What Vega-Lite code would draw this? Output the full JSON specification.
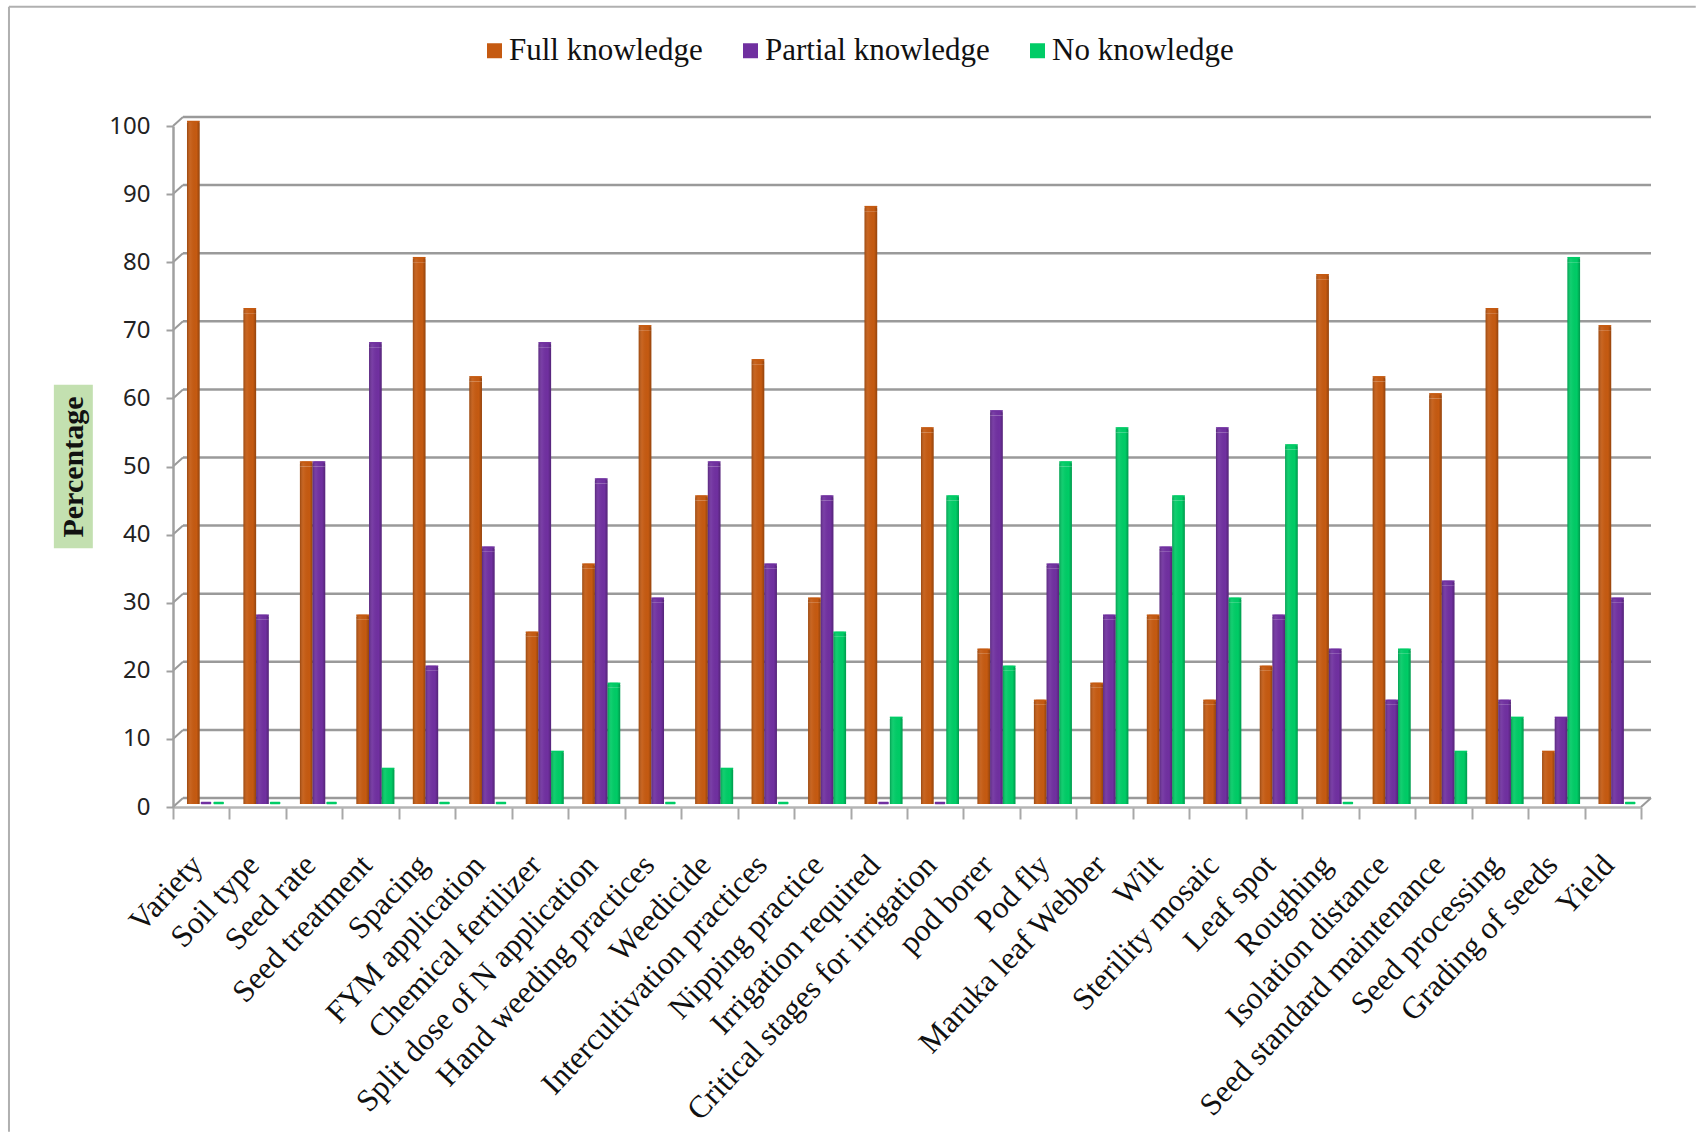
{"$schema":"https://vega.github.io/schema/vega-lite/v6.json","width":1468,"height":681,"padding":{"left":173,"top":126,"right":55,"bottom":325},"autosize":{"type":"none"},"background":"white","config":{"view":{"stroke":null}},
"datasets":{"ticks":[{"t":0},{"t":10},{"t":20},{"t":30},{"t":40},{"t":50},{"t":60},{"t":70},{"t":80},{"t":90},{"t":100}],
"rows":[
{"topic":"Variety","series":"Full knowledge","value":100},{"topic":"Variety","series":"Partial knowledge","value":0},{"topic":"Variety","series":"No knowledge","value":0},
{"topic":"Soil type","series":"Full knowledge","value":72.5},{"topic":"Soil type","series":"Partial knowledge","value":27.5},{"topic":"Soil type","series":"No knowledge","value":0},
{"topic":"Seed rate","series":"Full knowledge","value":50},{"topic":"Seed rate","series":"Partial knowledge","value":50},{"topic":"Seed rate","series":"No knowledge","value":0},
{"topic":"Seed treatment","series":"Full knowledge","value":27.5},{"topic":"Seed treatment","series":"Partial knowledge","value":67.5},{"topic":"Seed treatment","series":"No knowledge","value":5},
{"topic":"Spacing","series":"Full knowledge","value":80},{"topic":"Spacing","series":"Partial knowledge","value":20},{"topic":"Spacing","series":"No knowledge","value":0},
{"topic":"FYM application","series":"Full knowledge","value":62.5},{"topic":"FYM application","series":"Partial knowledge","value":37.5},{"topic":"FYM application","series":"No knowledge","value":0},
{"topic":"Chemical fertilizer","series":"Full knowledge","value":25},{"topic":"Chemical fertilizer","series":"Partial knowledge","value":67.5},{"topic":"Chemical fertilizer","series":"No knowledge","value":7.5},
{"topic":"Split dose of N application","series":"Full knowledge","value":35},{"topic":"Split dose of N application","series":"Partial knowledge","value":47.5},{"topic":"Split dose of N application","series":"No knowledge","value":17.5},
{"topic":"Hand weeding practices","series":"Full knowledge","value":70},{"topic":"Hand weeding practices","series":"Partial knowledge","value":30},{"topic":"Hand weeding practices","series":"No knowledge","value":0},
{"topic":"Weedicide","series":"Full knowledge","value":45},{"topic":"Weedicide","series":"Partial knowledge","value":50},{"topic":"Weedicide","series":"No knowledge","value":5},
{"topic":"Intercultivation practices","series":"Full knowledge","value":65},{"topic":"Intercultivation practices","series":"Partial knowledge","value":35},{"topic":"Intercultivation practices","series":"No knowledge","value":0},
{"topic":"Nipping practice","series":"Full knowledge","value":30},{"topic":"Nipping practice","series":"Partial knowledge","value":45},{"topic":"Nipping practice","series":"No knowledge","value":25},
{"topic":"Irrigation required","series":"Full knowledge","value":87.5},{"topic":"Irrigation required","series":"Partial knowledge","value":0},{"topic":"Irrigation required","series":"No knowledge","value":12.5},
{"topic":"Critical stages for irrigation","series":"Full knowledge","value":55},{"topic":"Critical stages for irrigation","series":"Partial knowledge","value":0},{"topic":"Critical stages for irrigation","series":"No knowledge","value":45},
{"topic":"pod borer","series":"Full knowledge","value":22.5},{"topic":"pod borer","series":"Partial knowledge","value":57.5},{"topic":"pod borer","series":"No knowledge","value":20},
{"topic":"Pod fly","series":"Full knowledge","value":15},{"topic":"Pod fly","series":"Partial knowledge","value":35},{"topic":"Pod fly","series":"No knowledge","value":50},
{"topic":"Maruka leaf Webber","series":"Full knowledge","value":17.5},{"topic":"Maruka leaf Webber","series":"Partial knowledge","value":27.5},{"topic":"Maruka leaf Webber","series":"No knowledge","value":55},
{"topic":"Wilt","series":"Full knowledge","value":27.5},{"topic":"Wilt","series":"Partial knowledge","value":37.5},{"topic":"Wilt","series":"No knowledge","value":45},
{"topic":"Sterility mosaic","series":"Full knowledge","value":15},{"topic":"Sterility mosaic","series":"Partial knowledge","value":55},{"topic":"Sterility mosaic","series":"No knowledge","value":30},
{"topic":"Leaf spot","series":"Full knowledge","value":20},{"topic":"Leaf spot","series":"Partial knowledge","value":27.5},{"topic":"Leaf spot","series":"No knowledge","value":52.5},
{"topic":"Roughing","series":"Full knowledge","value":77.5},{"topic":"Roughing","series":"Partial knowledge","value":22.5},{"topic":"Roughing","series":"No knowledge","value":0},
{"topic":"Isolation distance","series":"Full knowledge","value":62.5},{"topic":"Isolation distance","series":"Partial knowledge","value":15},{"topic":"Isolation distance","series":"No knowledge","value":22.5},
{"topic":"Seed standard maintenance","series":"Full knowledge","value":60},{"topic":"Seed standard maintenance","series":"Partial knowledge","value":32.5},{"topic":"Seed standard maintenance","series":"No knowledge","value":7.5},
{"topic":"Seed processing","series":"Full knowledge","value":72.5},{"topic":"Seed processing","series":"Partial knowledge","value":15},{"topic":"Seed processing","series":"No knowledge","value":12.5},
{"topic":"Grading of seeds","series":"Full knowledge","value":7.5},{"topic":"Grading of seeds","series":"Partial knowledge","value":12.5},{"topic":"Grading of seeds","series":"No knowledge","value":80},
{"topic":"Yield","series":"Full knowledge","value":70},{"topic":"Yield","series":"Partial knowledge","value":30},{"topic":"Yield","series":"No knowledge","value":0}
]},
"data":{"name":"rows"},
"resolve":{"scale":{"x":"independent"},"axis":{"x":"independent"}},
"layer":[
{"data":{"values":[{"a":1}]},"mark":{"type":"rule","color":"#b0b0b0","strokeWidth":2},"encoding":{"x":{"datum":-2.905,"type":"quantitative","scale":{"domain":[0,26]},"axis":null},"y":{"datum":117.5,"type":"quantitative","scale":{"domain":[0,100],"nice":false},"title":"Percentage","axis":{"values":[0,10,20,30,40,50,60,70,80,90,100],"grid":false,"zindex":1,"tickSize":7,"tickColor":"#a0a0a0","tickWidth":2,"domainColor":"#a0a0a0","domainWidth":2.5,"labelFont":"Noto Sans","labelFontSize":24,"labelColor":"#222222","labelPadding":16,"titleFont":"Liberation Serif","titleFontWeight":"bold","titleFontSize":30,"titleColor":"#111111","titlePadding":20}},"y2":{"datum":-47.7}}},
{"data":{"values":[{"a":1}]},"mark":{"type":"rule","color":"#b0b0b0","strokeWidth":2},"encoding":{"x":{"datum":-2.905,"type":"quantitative","scale":{"domain":[0,26]},"axis":null},"x2":{"datum":26.97},"y":{"datum":117.5,"type":"quantitative","title":"Percentage"}}},
{"data":{"values":[{"a":1}]},"mark":{"type":"rect","color":"#c3e0b0"},"encoding":{"x":{"datum":-2.11,"type":"quantitative","scale":{"domain":[0,26]},"axis":null},"x2":{"datum":-1.42},"y":{"datum":62,"type":"quantitative","title":"Percentage"},"y2":{"datum":38}}},
{"data":{"name":"ticks"},"mark":{"type":"rule","color":"#9a9a9a","strokeWidth":2.5,"x2Offset":10,"yOffset":-9},"encoding":{"x":{"datum":0.177,"type":"quantitative","scale":{"domain":[0,26]},"axis":null},"x2":{"datum":26},"y":{"field":"t","type":"quantitative","title":"Percentage"}}},
{"data":{"name":"ticks"},"mark":{"type":"rule","color":"#9a9a9a","strokeWidth":2,"x2Offset":10,"y2Offset":-9},"encoding":{"x":{"datum":0,"type":"quantitative","scale":{"domain":[0,26]},"axis":null},"x2":{"datum":0},"y":{"field":"t","type":"quantitative","title":"Percentage"},"y2":{"field":"t"}}},
{"data":{"values":[{"t":0}]},"mark":{"type":"rule","color":"#9a9a9a","strokeWidth":2,"x2Offset":10,"y2Offset":-9},"encoding":{"x":{"datum":26,"type":"quantitative","scale":{"domain":[0,26]},"axis":null},"x2":{"datum":26},"y":{"field":"t","type":"quantitative","title":"Percentage"},"y2":{"field":"t"}}},
{"transform":[{"filter":"datum.value > 0"}],"mark":{"type":"bar"},"encoding":{
"x":{"field":"topic","type":"nominal","sort":null,"scale":{"paddingInner":0,"paddingOuter":0},"title":null,"axis":{"tickBand":"extent","tickSize":12,"tickColor":"#a8a8a8","tickWidth":2,"domainColor":"#b4b4b4","domainWidth":2.5,"labelAngle":-47,"labelAlign":"right","labelBaseline":"middle","labelFont":"Liberation Serif","labelFontSize":31.5,"labelColor":"#111111","labelPadding":41,"labelOffset":-4,"labelOverlap":false,"labelLimit":0,"grid":false}},
"xOffset":{"field":"series","type":"nominal","scale":{"domain":["Full knowledge","Partial knowledge","No knowledge"],"paddingInner":0,"paddingOuter":0.7285,"align":0.758}},
"y":{"field":"value","type":"quantitative","title":"Percentage"},"y2":{"datum":0.44},
"color":{"field":"series","type":"nominal","scale":{"domain":["Full knowledge","Partial knowledge","No knowledge"],"range":["#c55a11","#7030a0","#00cc66"]},"legend":{"orient":"none","legendX":306,"legendY":-91,"direction":"horizontal","title":null,"symbolType":"square","symbolSize":225,"symbolStrokeWidth":0,"labelFont":"Liberation Serif","labelFontSize":31,"labelColor":"#111111","labelOffset":-1,"columnPadding":32,"labelLimit":0}}}},
{"transform":[{"filter":"datum.value > 0"}],"mark":{"type":"tick","yOffset":-2.5,"thickness":5,"size":12.7,"opacity":1,"cornerRadiusTopLeft":3,"cornerRadiusTopRight":3},"encoding":{
"x":{"field":"topic","type":"nominal","sort":null,"scale":{"paddingInner":0,"paddingOuter":0},"axis":null},
"xOffset":{"field":"series","type":"nominal","scale":{"domain":["Full knowledge","Partial knowledge","No knowledge"],"paddingInner":0,"paddingOuter":0.7285,"align":0.758}},
"y":{"field":"value","type":"quantitative","title":"Percentage"},
"color":{"field":"series","type":"nominal","scale":{"domain":["Full knowledge","Partial knowledge","No knowledge"],"range":["#c55a11","#7030a0","#00cc66"]},"legend":null}}},
{"transform":[{"filter":"datum.value > 0"}],"mark":{"type":"bar","fill":{"x1":0,"y1":0,"x2":1,"y2":0,"gradient":"linear","stops":[{"offset":0,"color":"rgba(0,0,0,0.22)"},{"offset":0.3,"color":"rgba(255,255,255,0.06)"},{"offset":0.75,"color":"rgba(0,0,0,0)"},{"offset":1,"color":"rgba(0,0,0,0.25)"}]}},"encoding":{
"x":{"field":"topic","type":"nominal","sort":null,"scale":{"paddingInner":0,"paddingOuter":0},"axis":null},
"xOffset":{"field":"series","type":"nominal","scale":{"domain":["Full knowledge","Partial knowledge","No knowledge"],"paddingInner":0,"paddingOuter":0.7285,"align":0.758}},
"y":{"field":"value","type":"quantitative","title":"Percentage"},"y2":{"datum":0.44}}},
{"transform":[{"filter":"datum.value > 0"}],"mark":{"type":"tick","yOffset":-2.5,"thickness":5,"size":12.7,"opacity":1,"fill":{"x1":0,"y1":0,"x2":1,"y2":0,"gradient":"linear","stops":[{"offset":0,"color":"rgba(0,0,0,0.22)"},{"offset":0.3,"color":"rgba(255,255,255,0.06)"},{"offset":0.75,"color":"rgba(0,0,0,0)"},{"offset":1,"color":"rgba(0,0,0,0.25)"}]}},"encoding":{
"x":{"field":"topic","type":"nominal","sort":null,"scale":{"paddingInner":0,"paddingOuter":0},"axis":null},
"xOffset":{"field":"series","type":"nominal","scale":{"domain":["Full knowledge","Partial knowledge","No knowledge"],"paddingInner":0,"paddingOuter":0.7285,"align":0.758}},
"y":{"field":"value","type":"quantitative","title":"Percentage"}}},
{"transform":[{"filter":"datum.value > 0"}],"mark":{"type":"tick","yOffset":-4.5,"thickness":1.5,"size":12.7,"opacity":1},"encoding":{
"x":{"field":"topic","type":"nominal","sort":null,"scale":{"paddingInner":0,"paddingOuter":0},"axis":null},
"xOffset":{"field":"series","type":"nominal","scale":{"domain":["Full knowledge","Partial knowledge","No knowledge"],"paddingInner":0,"paddingOuter":0.7285,"align":0.758}},
"y":{"field":"value","type":"quantitative","title":"Percentage"},
"color":{"field":"series","type":"nominal","scale":{"domain":["Full knowledge","Partial knowledge","No knowledge"],"range":["#a34a0e","#5c2785","#00a653"]},"legend":null}}},
{"transform":[{"filter":"datum.value == 0"}],"mark":{"type":"tick","yOffset":-4,"thickness":2.5,"size":10.5,"opacity":1,"cornerRadius":1},"encoding":{
"x":{"field":"topic","type":"nominal","sort":null,"scale":{"domain":["Variety","Soil type","Seed rate","Seed treatment","Spacing","FYM application","Chemical fertilizer","Split dose of N application","Hand weeding practices","Weedicide","Intercultivation practices","Nipping practice","Irrigation required","Critical stages for irrigation","pod borer","Pod fly","Maruka leaf Webber","Wilt","Sterility mosaic","Leaf spot","Roughing","Isolation distance","Seed standard maintenance","Seed processing","Grading of seeds","Yield"],"paddingInner":0,"paddingOuter":0},"axis":null},
"xOffset":{"field":"series","type":"nominal","scale":{"domain":["Full knowledge","Partial knowledge","No knowledge"],"paddingInner":0,"paddingOuter":0.7285,"align":0.758}},
"y":{"field":"value","type":"quantitative","title":"Percentage"},
"color":{"field":"series","type":"nominal","scale":{"domain":["Full knowledge","Partial knowledge","No knowledge"],"range":["#c55a11","#7030a0","#00b85c"]},"legend":null}}}
]}
